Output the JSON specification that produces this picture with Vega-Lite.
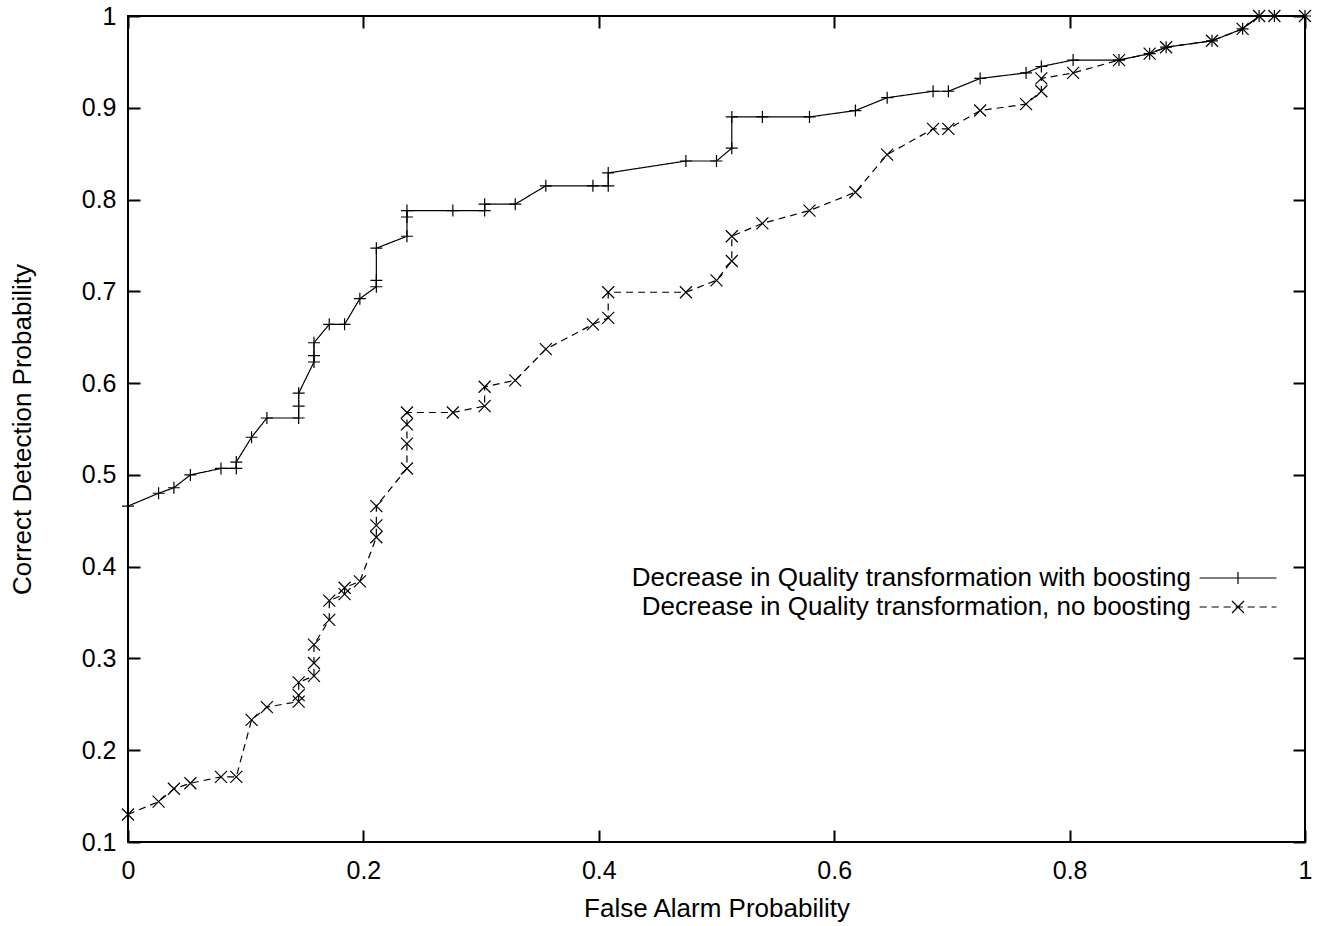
{
  "$schema": "https://vega.github.io/schema/vega-lite/v6.json",
  "width": 1177,
  "height": 826,
  "autosize": {"type": "none"},
  "padding": {"left": 128, "top": 16, "right": 23, "bottom": 84},
  "background": "white",
  "config": {
    "view": {"stroke": "black", "strokeWidth": 2},
    "font": "Liberation Sans",
    "axis": {
      "domain": false,
      "grid": false,
      "labelFlush": false,
      "labelOverlap": false,
      "tickColor": "black",
      "tickWidth": 2,
      "tickSize": -12,
      "labelColor": "black",
      "labelFont": "Liberation Sans",
      "labelFontSize": 25,
      "titleFont": "Liberation Sans",
      "titleFontSize": 26,
      "titleFontWeight": "normal",
      "titleColor": "black"
    }
  },
  "data": {
    "values": [
      {"series": "Decrease in Quality transformation with boosting", "i": 0, "x": 0, "y": 0.466},
      {"series": "Decrease in Quality transformation with boosting", "i": 1, "x": 0.026, "y": 0.48},
      {"series": "Decrease in Quality transformation with boosting", "i": 2, "x": 0.039, "y": 0.486},
      {"series": "Decrease in Quality transformation with boosting", "i": 3, "x": 0.053, "y": 0.5},
      {"series": "Decrease in Quality transformation with boosting", "i": 4, "x": 0.079, "y": 0.507},
      {"series": "Decrease in Quality transformation with boosting", "i": 5, "x": 0.092, "y": 0.507},
      {"series": "Decrease in Quality transformation with boosting", "i": 6, "x": 0.092, "y": 0.514},
      {"series": "Decrease in Quality transformation with boosting", "i": 7, "x": 0.105, "y": 0.541},
      {"series": "Decrease in Quality transformation with boosting", "i": 8, "x": 0.118, "y": 0.562},
      {"series": "Decrease in Quality transformation with boosting", "i": 9, "x": 0.145, "y": 0.562},
      {"series": "Decrease in Quality transformation with boosting", "i": 10, "x": 0.145, "y": 0.575},
      {"series": "Decrease in Quality transformation with boosting", "i": 11, "x": 0.145, "y": 0.589},
      {"series": "Decrease in Quality transformation with boosting", "i": 12, "x": 0.158, "y": 0.623},
      {"series": "Decrease in Quality transformation with boosting", "i": 13, "x": 0.158, "y": 0.63},
      {"series": "Decrease in Quality transformation with boosting", "i": 14, "x": 0.158, "y": 0.644},
      {"series": "Decrease in Quality transformation with boosting", "i": 15, "x": 0.171, "y": 0.664},
      {"series": "Decrease in Quality transformation with boosting", "i": 16, "x": 0.184, "y": 0.664},
      {"series": "Decrease in Quality transformation with boosting", "i": 17, "x": 0.197, "y": 0.692},
      {"series": "Decrease in Quality transformation with boosting", "i": 18, "x": 0.211, "y": 0.705},
      {"series": "Decrease in Quality transformation with boosting", "i": 19, "x": 0.211, "y": 0.712},
      {"series": "Decrease in Quality transformation with boosting", "i": 20, "x": 0.211, "y": 0.747},
      {"series": "Decrease in Quality transformation with boosting", "i": 21, "x": 0.237, "y": 0.76},
      {"series": "Decrease in Quality transformation with boosting", "i": 22, "x": 0.237, "y": 0.781},
      {"series": "Decrease in Quality transformation with boosting", "i": 23, "x": 0.237, "y": 0.788},
      {"series": "Decrease in Quality transformation with boosting", "i": 24, "x": 0.276, "y": 0.788},
      {"series": "Decrease in Quality transformation with boosting", "i": 25, "x": 0.303, "y": 0.788},
      {"series": "Decrease in Quality transformation with boosting", "i": 26, "x": 0.303, "y": 0.795},
      {"series": "Decrease in Quality transformation with boosting", "i": 27, "x": 0.329, "y": 0.795},
      {"series": "Decrease in Quality transformation with boosting", "i": 28, "x": 0.355, "y": 0.815},
      {"series": "Decrease in Quality transformation with boosting", "i": 29, "x": 0.395, "y": 0.815},
      {"series": "Decrease in Quality transformation with boosting", "i": 30, "x": 0.408, "y": 0.815},
      {"series": "Decrease in Quality transformation with boosting", "i": 31, "x": 0.408, "y": 0.829},
      {"series": "Decrease in Quality transformation with boosting", "i": 32, "x": 0.474, "y": 0.842},
      {"series": "Decrease in Quality transformation with boosting", "i": 33, "x": 0.5, "y": 0.842},
      {"series": "Decrease in Quality transformation with boosting", "i": 34, "x": 0.513, "y": 0.856},
      {"series": "Decrease in Quality transformation with boosting", "i": 35, "x": 0.513, "y": 0.89},
      {"series": "Decrease in Quality transformation with boosting", "i": 36, "x": 0.539, "y": 0.89},
      {"series": "Decrease in Quality transformation with boosting", "i": 37, "x": 0.579, "y": 0.89},
      {"series": "Decrease in Quality transformation with boosting", "i": 38, "x": 0.618, "y": 0.897},
      {"series": "Decrease in Quality transformation with boosting", "i": 39, "x": 0.645, "y": 0.911},
      {"series": "Decrease in Quality transformation with boosting", "i": 40, "x": 0.684, "y": 0.918},
      {"series": "Decrease in Quality transformation with boosting", "i": 41, "x": 0.697, "y": 0.918},
      {"series": "Decrease in Quality transformation with boosting", "i": 42, "x": 0.724, "y": 0.932},
      {"series": "Decrease in Quality transformation with boosting", "i": 43, "x": 0.763, "y": 0.938},
      {"series": "Decrease in Quality transformation with boosting", "i": 44, "x": 0.776, "y": 0.945},
      {"series": "Decrease in Quality transformation with boosting", "i": 45, "x": 0.803, "y": 0.952},
      {"series": "Decrease in Quality transformation with boosting", "i": 46, "x": 0.842, "y": 0.952},
      {"series": "Decrease in Quality transformation with boosting", "i": 47, "x": 0.868, "y": 0.959},
      {"series": "Decrease in Quality transformation with boosting", "i": 48, "x": 0.882, "y": 0.966},
      {"series": "Decrease in Quality transformation with boosting", "i": 49, "x": 0.921, "y": 0.973},
      {"series": "Decrease in Quality transformation with boosting", "i": 50, "x": 0.947, "y": 0.986},
      {"series": "Decrease in Quality transformation with boosting", "i": 51, "x": 0.961, "y": 1.0},
      {"series": "Decrease in Quality transformation with boosting", "i": 52, "x": 0.974, "y": 1.0},
      {"series": "Decrease in Quality transformation with boosting", "i": 53, "x": 1.0, "y": 1.0},
      {"series": "Decrease in Quality transformation, no boosting", "i": 0, "x": 0, "y": 0.13},
      {"series": "Decrease in Quality transformation, no boosting", "i": 1, "x": 0.026, "y": 0.144},
      {"series": "Decrease in Quality transformation, no boosting", "i": 2, "x": 0.039, "y": 0.158},
      {"series": "Decrease in Quality transformation, no boosting", "i": 3, "x": 0.053, "y": 0.164},
      {"series": "Decrease in Quality transformation, no boosting", "i": 4, "x": 0.079, "y": 0.171},
      {"series": "Decrease in Quality transformation, no boosting", "i": 5, "x": 0.092, "y": 0.171},
      {"series": "Decrease in Quality transformation, no boosting", "i": 6, "x": 0.105, "y": 0.233},
      {"series": "Decrease in Quality transformation, no boosting", "i": 7, "x": 0.118, "y": 0.247},
      {"series": "Decrease in Quality transformation, no boosting", "i": 8, "x": 0.145, "y": 0.253},
      {"series": "Decrease in Quality transformation, no boosting", "i": 9, "x": 0.145, "y": 0.26},
      {"series": "Decrease in Quality transformation, no boosting", "i": 10, "x": 0.145, "y": 0.274},
      {"series": "Decrease in Quality transformation, no boosting", "i": 11, "x": 0.158, "y": 0.281},
      {"series": "Decrease in Quality transformation, no boosting", "i": 12, "x": 0.158, "y": 0.295},
      {"series": "Decrease in Quality transformation, no boosting", "i": 13, "x": 0.158, "y": 0.315},
      {"series": "Decrease in Quality transformation, no boosting", "i": 14, "x": 0.171, "y": 0.342},
      {"series": "Decrease in Quality transformation, no boosting", "i": 15, "x": 0.171, "y": 0.363},
      {"series": "Decrease in Quality transformation, no boosting", "i": 16, "x": 0.184, "y": 0.37},
      {"series": "Decrease in Quality transformation, no boosting", "i": 17, "x": 0.184, "y": 0.377},
      {"series": "Decrease in Quality transformation, no boosting", "i": 18, "x": 0.197, "y": 0.384},
      {"series": "Decrease in Quality transformation, no boosting", "i": 19, "x": 0.211, "y": 0.432},
      {"series": "Decrease in Quality transformation, no boosting", "i": 20, "x": 0.211, "y": 0.445},
      {"series": "Decrease in Quality transformation, no boosting", "i": 21, "x": 0.211, "y": 0.466},
      {"series": "Decrease in Quality transformation, no boosting", "i": 22, "x": 0.237, "y": 0.507},
      {"series": "Decrease in Quality transformation, no boosting", "i": 23, "x": 0.237, "y": 0.534},
      {"series": "Decrease in Quality transformation, no boosting", "i": 24, "x": 0.237, "y": 0.555},
      {"series": "Decrease in Quality transformation, no boosting", "i": 25, "x": 0.237, "y": 0.568},
      {"series": "Decrease in Quality transformation, no boosting", "i": 26, "x": 0.276, "y": 0.568},
      {"series": "Decrease in Quality transformation, no boosting", "i": 27, "x": 0.303, "y": 0.575},
      {"series": "Decrease in Quality transformation, no boosting", "i": 28, "x": 0.303, "y": 0.596},
      {"series": "Decrease in Quality transformation, no boosting", "i": 29, "x": 0.329, "y": 0.603},
      {"series": "Decrease in Quality transformation, no boosting", "i": 30, "x": 0.355, "y": 0.637},
      {"series": "Decrease in Quality transformation, no boosting", "i": 31, "x": 0.395, "y": 0.664},
      {"series": "Decrease in Quality transformation, no boosting", "i": 32, "x": 0.408, "y": 0.671},
      {"series": "Decrease in Quality transformation, no boosting", "i": 33, "x": 0.408, "y": 0.699},
      {"series": "Decrease in Quality transformation, no boosting", "i": 34, "x": 0.474, "y": 0.699},
      {"series": "Decrease in Quality transformation, no boosting", "i": 35, "x": 0.5, "y": 0.712},
      {"series": "Decrease in Quality transformation, no boosting", "i": 36, "x": 0.513, "y": 0.733},
      {"series": "Decrease in Quality transformation, no boosting", "i": 37, "x": 0.513, "y": 0.76},
      {"series": "Decrease in Quality transformation, no boosting", "i": 38, "x": 0.539, "y": 0.774},
      {"series": "Decrease in Quality transformation, no boosting", "i": 39, "x": 0.579, "y": 0.788},
      {"series": "Decrease in Quality transformation, no boosting", "i": 40, "x": 0.618, "y": 0.808},
      {"series": "Decrease in Quality transformation, no boosting", "i": 41, "x": 0.645, "y": 0.849},
      {"series": "Decrease in Quality transformation, no boosting", "i": 42, "x": 0.684, "y": 0.877},
      {"series": "Decrease in Quality transformation, no boosting", "i": 43, "x": 0.697, "y": 0.877},
      {"series": "Decrease in Quality transformation, no boosting", "i": 44, "x": 0.724, "y": 0.897},
      {"series": "Decrease in Quality transformation, no boosting", "i": 45, "x": 0.763, "y": 0.904},
      {"series": "Decrease in Quality transformation, no boosting", "i": 46, "x": 0.776, "y": 0.918},
      {"series": "Decrease in Quality transformation, no boosting", "i": 47, "x": 0.776, "y": 0.932},
      {"series": "Decrease in Quality transformation, no boosting", "i": 48, "x": 0.803, "y": 0.938},
      {"series": "Decrease in Quality transformation, no boosting", "i": 49, "x": 0.842, "y": 0.952},
      {"series": "Decrease in Quality transformation, no boosting", "i": 50, "x": 0.868, "y": 0.959},
      {"series": "Decrease in Quality transformation, no boosting", "i": 51, "x": 0.882, "y": 0.966},
      {"series": "Decrease in Quality transformation, no boosting", "i": 52, "x": 0.921, "y": 0.973},
      {"series": "Decrease in Quality transformation, no boosting", "i": 53, "x": 0.947, "y": 0.986},
      {"series": "Decrease in Quality transformation, no boosting", "i": 54, "x": 0.961, "y": 1.0},
      {"series": "Decrease in Quality transformation, no boosting", "i": 55, "x": 0.974, "y": 1.0},
      {"series": "Decrease in Quality transformation, no boosting", "i": 56, "x": 1.0, "y": 1.0}
    ]
  },
  "resolve": {"scale": {"shape": "independent"}, "legend": {"shape": "independent"}},
  "layer": [
    {
      "mark": {"type": "line", "color": "black", "strokeWidth": 1.2},
      "encoding": {
        "x": {
          "field": "x", "type": "quantitative",
          "scale": {"domain": [0, 1], "nice": false, "zero": false},
          "axis": {
            "orient": "bottom",
            "values": [0, 0.2, 0.4, 0.6, 0.8, 1],
            "format": "~g",
            "labelPadding": 28,
            "title": "False Alarm Probability",
            "titlePadding": 12
          }
        },
        "y": {
          "field": "y", "type": "quantitative",
          "scale": {"domain": [0.1, 1], "nice": false, "zero": false},
          "axis": {
            "orient": "left",
            "values": [0.1, 0.2, 0.3, 0.4, 0.5, 0.6, 0.7, 0.8, 0.9, 1],
            "format": "~g",
            "labelPadding": 24,
            "title": "Correct Detection Probability",
            "titlePadding": 46
          }
        },
        "detail": {"field": "series", "type": "nominal"},
        "strokeDash": {
          "condition": {"test": "indexof(datum.series, 'no boosting') >= 0", "value": [7, 5]},
          "value": [1, 0]
        },
        "order": {"field": "i", "type": "quantitative"}
      }
    },
    {
      "mark": {"type": "point", "filled": false, "color": "black", "strokeWidth": 1.2, "size": 144, "opacity": 1},
      "encoding": {
        "x": {
          "field": "x", "type": "quantitative",
          "axis": {"orient": "top", "values": [0, 0.2, 0.4, 0.6, 0.8, 1], "labels": false, "title": null}
        },
        "y": {
          "field": "y", "type": "quantitative",
          "axis": {"orient": "right", "values": [0.1, 0.2, 0.3, 0.4, 0.5, 0.6, 0.7, 0.8, 0.9, 1], "labels": false, "title": null}
        },
        "shape": {
          "field": "series", "type": "nominal",
          "scale": {
            "domain": ["Decrease in Quality transformation with boosting", "Decrease in Quality transformation, no boosting"],
            "range": ["M-1,0L1,0M0,-1L0,1", "M-1,-1L1,1M-1,1L1,-1"]
          },
          "legend": null
        }
      }
    },
    {
      "mark": {"type": "point", "filled": false, "color": "black", "strokeWidth": 1.2, "size": 144, "opacity": 0},
      "encoding": {
        "x": {"field": "x", "type": "quantitative", "axis": null},
        "y": {"field": "y", "type": "quantitative", "axis": null},
        "shape": {
          "field": "series", "type": "nominal",
          "scale": {
            "domain": ["Decrease in Quality transformation with boosting", "Decrease in Quality transformation, no boosting"],
            "range": [
              "M-6.4,0L6.4,0M0,-1L0,1",
              "M-6.4,0L-5.2,0M-4.4,0L-3.2,0M-2.4,0L-1.2,0M-0.4,0L0.8,0M1.6,0L2.8,0M3.6,0L4.8,0M5.6,0L6.4,0M-1,-1L1,1M-1,1L1,-1"
            ]
          },
          "legend": {
            "orient": "none",
            "legendX": 1097,
            "legendY": 549,
            "title": null,
            "padding": 0,
            "rowPadding": 3,
            "labelFont": "Liberation Sans",
            "labelFontSize": 26,
            "labelColor": "black",
            "labelAlign": "right",
            "labelOffset": -60,
            "labelLimit": 1000,
            "symbolSize": 144,
            "symbolOpacity": 1,
            "symbolStrokeWidth": 1.2,
            "symbolStrokeColor": "black",
            "symbolFillColor": "transparent"
          }
        }
      }
    }
  ]
}
